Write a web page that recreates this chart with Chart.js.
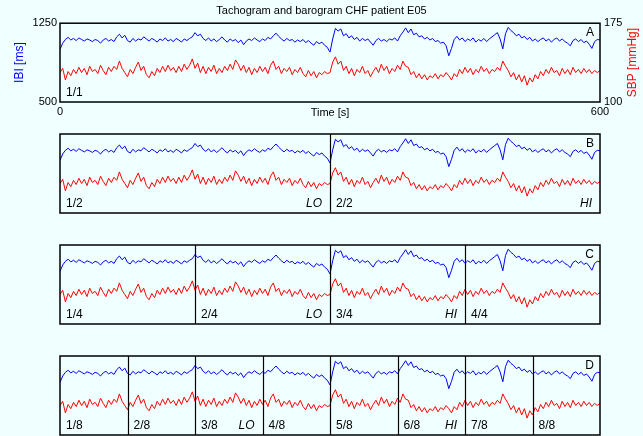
<!DOCTYPE html>
<html>
<head>
<meta charset="utf-8">
<script src="https://cdn.jsdelivr.net/npm/chart.js@4.4.0/dist/chart.umd.min.js"></script>
<style>
  body { margin:0; background:#f0ffff; width:643px; height:436px; position:relative; overflow:hidden; }
  canvas { position:absolute; left:0; }
</style>
</head>
<body>
<canvas id="panelA" width="643" height="120" style="top:0"></canvas>
<canvas id="panelB" width="643" height="89" style="top:129px"></canvas>
<canvas id="panelC" width="643" height="89" style="top:240px"></canvas>
<canvas id="panelD" width="643" height="89" style="top:351px"></canvas>
<script>
// sampling step of the traces (s)
const stepSec = 3;

// IBI [ms], one value every 3 s, 0..600 s
const ibiMs = [
  1000,1060,1095,1115,1090,1105,1085,1110,1095,1080,1100,1090,1075,1095,1085,1060,1090,1105,1080,1095,
  1075,1120,1145,1110,1135,1085,1070,1105,1080,1100,1090,1120,1100,1080,1105,1090,1070,1100,1085,1110,
  1080,1095,1075,1105,1090,1070,1100,1085,1105,1120,1160,1130,1145,1105,1085,1110,1080,1100,1075,1095,
  1120,1090,1070,1100,1080,1095,1065,1090,1045,1080,1100,1085,1110,1090,1075,1100,1085,1115,1100,1130,
  1155,1125,1100,1080,1105,1085,1095,1070,1090,1075,1095,1065,1085,1060,1040,1075,1055,1070,1040,1020,
  975,1100,1200,1175,1195,1130,1150,1110,1130,1095,1115,1080,1105,1085,1100,1070,1040,1085,1105,1080,
  1095,1075,1100,1090,1110,1080,1130,1165,1205,1160,1195,1140,1155,1120,1130,1100,1115,1090,1105,1075,
  1085,1060,1070,1035,940,1010,1095,1125,1090,1110,1075,1100,1085,1110,1070,1095,1080,1105,1075,1100,
  1120,1140,1160,1100,1005,1150,1210,1180,1160,1130,1145,1110,1125,1095,1115,1080,1100,1075,1095,1110,
  1080,1100,1070,1095,1110,1080,1100,1075,1060,1035,1085,1100,1075,1095,1065,1080,1050,1010,1075,1095,
  1090
];

// SBP [mmHg], one value every 3 s, 0..600 s
const sbpMmHg = [
  128,132,121,129,125,131,127,133,128,132,126,134,129,131,127,135,130,126,133,129,
  134,131,139,132,128,124,131,127,133,138,130,134,126,123,129,125,132,128,134,129,
  135,130,133,128,134,129,136,131,135,141,132,137,128,134,127,133,129,135,127,132,
  128,134,130,136,131,140,136,130,135,128,133,126,132,128,134,129,133,127,135,139,
  131,134,127,132,129,133,126,131,128,133,127,124,130,125,129,123,128,126,129,127,
  128,138,143,136,139,130,134,127,132,125,131,128,134,127,130,124,129,133,128,136,
  130,134,127,132,129,135,131,139,134,133,126,129,123,127,122,126,121,125,123,127,
  122,126,124,128,125,121,127,124,131,127,133,128,132,126,131,128,134,129,132,127,
  131,129,133,130,139,134,130,124,128,121,126,119,125,116,123,119,126,122,129,125,
  131,127,133,128,130,125,132,127,131,126,133,128,131,127,132,128,131,127,130,128,
  130
];

const ibiTicks = [500, 1250];
const sbpTicks = [100, 175];
const timeTicks = [0, 600];

const ibiPts = ibiMs.map((v, i) => ({ x: i * stepSec, y: v }));
const sbpPts = sbpMmHg.map((v, i) => ({ x: i * stepSec, y: v }));

const fam = '"Liberation Sans", Arial, Helvetica, sans-serif';
Chart.defaults.font.family = fam;
Chart.defaults.color = '#000';

// box, segment lines and the little labels inside each panel
const deco = {
  id: 'deco',
  afterDraw(chart, args, o) {
    const { ctx, chartArea: a, scales: { x } } = chart;
    ctx.save();
    ctx.strokeStyle = '#000';
    ctx.lineWidth = 1.5;
    ctx.strokeRect(a.left, a.top, a.right - a.left, a.bottom - a.top);
    ctx.lineWidth = 1.2;
    for (let k = 1; k < o.parts; k++) {
      const px = Math.round(x.getPixelForValue(600 * k / o.parts)) + 0.5;
      ctx.beginPath(); ctx.moveTo(px, a.top); ctx.lineTo(px, a.bottom); ctx.stroke();
    }
    ctx.fillStyle = '#000';
    ctx.font = '12px ' + fam;
    ctx.textAlign = 'left';
    for (let k = 0; k < o.parts; k++) {
      ctx.fillText((k + 1) + '/' + o.parts, x.getPixelForValue(600 * k / o.parts) + 6, a.bottom - 6);
    }
    ctx.font = 'italic 12px ' + fam;
    ctx.textAlign = 'right';
    if (o.lo) ctx.fillText('LO', x.getPixelForValue(600 * o.lo / o.parts) - 8, a.bottom - 6);
    if (o.hi) ctx.fillText('HI', x.getPixelForValue(600 * o.hi / o.parts) - 8, a.bottom - 6);
    ctx.font = '12px ' + fam;
    ctx.fillText(o.letter, a.right - 6, a.top + 13);
    if (o.sbpTitle) {
      ctx.translate(633, (a.top + a.bottom) / 2);
      ctx.rotate(-Math.PI / 2);
      ctx.textAlign = 'center';
      ctx.textBaseline = 'middle';
      ctx.fillStyle = '#ff0000';
      ctx.fillText(o.sbpTitle, 0, 0);
    }
    ctx.restore();
  }
};

function datasets() {
  return [
    { data: ibiPts, yAxisID: 'yIbi', borderColor: '#0000ff', borderWidth: 1, pointRadius: 0, tension: 0 },
    { data: sbpPts, yAxisID: 'ySbp', borderColor: '#ff0000', borderWidth: 1, pointRadius: 0, tension: 0 }
  ];
}

const plainTick = v => String(v);

// Panel A, with axes
new Chart(document.getElementById('panelA'), {
  type: 'line',
  data: { datasets: datasets() },
  options: {
    responsive: false, animation: false, devicePixelRatio: 1,
    layout: { padding: 0 },
    plugins: {
      legend: { display: false }, tooltip: { enabled: false },
      title: { display: true, text: 'Tachogram and barogram CHF patient E05',
               font: { size: 11, weight: 'normal' }, color: '#000', padding: { top: 4, bottom: 6 } },
      deco: { parts: 1, letter: 'A', sbpTitle: 'SBP [mmHg]' }
    },
    scales: {
      x: {
        type: 'linear', min: 0, max: 600,
        grid: { display: false, drawTicks: false }, border: { display: false },
        afterBuildTicks: s => { s.ticks = timeTicks.map(v => ({ value: v })); },
        ticks: { font: { size: 11 }, padding: 3, maxRotation: 0, callback: plainTick },
        title: { display: true, text: 'Time [s]', font: { size: 11 }, padding: 0 },
        afterFit: s => { s.height = 18; }
      },
      yIbi: {
        position: 'left', min: 500, max: 1250,
        grid: { display: false, drawTicks: false }, border: { display: false },
        afterBuildTicks: s => { s.ticks = ibiTicks.map(v => ({ value: v })); },
        ticks: { font: { size: 11 }, padding: 3, callback: plainTick },
        title: { display: true, text: 'IBI [ms]', color: '#0000ff', font: { size: 12 }, padding: { top: 12, bottom: 0 } },
        afterFit: s => { s.width = 60; }
      },
      ySbp: {
        position: 'right', min: 100, max: 175,
        grid: { display: false, drawTicks: false }, border: { display: false },
        afterBuildTicks: s => { s.ticks = sbpTicks.map(v => ({ value: v })); },
        ticks: { font: { size: 11 }, padding: 4, callback: plainTick },
        afterFit: s => { s.width = 43; }
      }
    }
  },
  plugins: [deco]
});

// Panels B, C, D: same traces, cut into 2, 4 and 8 parts
function segPanel(id, parts, letter, lo, hi) {
  new Chart(document.getElementById(id), {
    type: 'line',
    data: { datasets: datasets() },
    options: {
      responsive: false, animation: false, devicePixelRatio: 1,
      layout: { padding: { left: 60, right: 43, top: 5, bottom: 5 } },
      plugins: {
        legend: { display: false }, tooltip: { enabled: false },
        deco: { parts: parts, letter: letter, lo: lo, hi: hi }
      },
      scales: {
        x: { type: 'linear', min: 0, max: 600, display: false },
        yIbi: { position: 'left', min: 500, max: 1250, display: false },
        ySbp: { position: 'right', min: 100, max: 175, display: false }
      }
    },
    plugins: [deco]
  });
}

segPanel('panelB', 2, 'B', 1, 2);
segPanel('panelC', 4, 'C', 2, 3);
segPanel('panelD', 8, 'D', 3, 6);
</script>
</body>
</html>
